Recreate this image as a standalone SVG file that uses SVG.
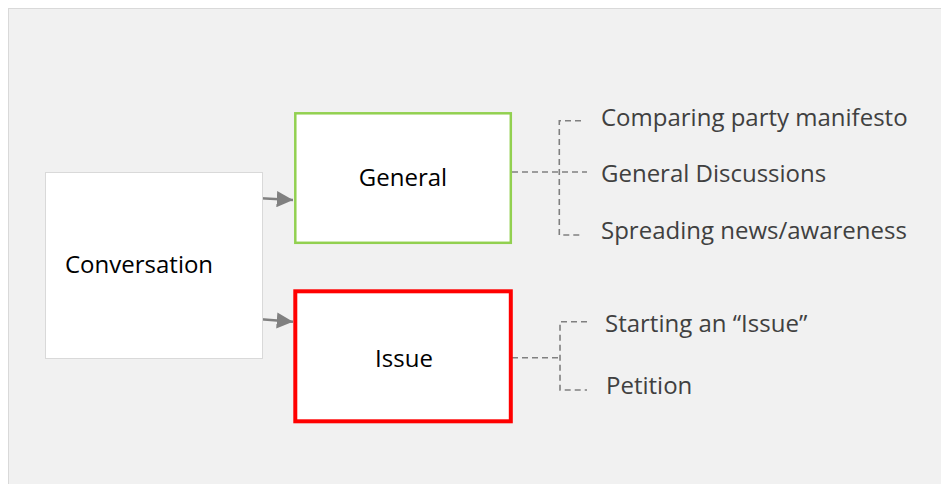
<svg xmlns="http://www.w3.org/2000/svg" width="941" height="484" viewBox="0 0 941 484">
<defs>
<style>
.lbl{font-family:"Open Sans","Noto Sans","Liberation Sans",sans-serif;font-size:24px;fill:#000}
.item{font-family:"Open Sans","Noto Sans","Liberation Sans",sans-serif;font-size:24px;fill:#404040}
.dash{fill:none;stroke:#808080;stroke-width:1.6;stroke-dasharray:6 4}
.arr{fill:none;stroke:#808080;stroke-width:2.5}
</style>
<marker id="ah" viewBox="0 0 10 10" refX="10" refY="5" markerWidth="6.5" markerHeight="6.5" markerUnits="strokeWidth" orient="auto">
<path d="M0,0 L10,5 L0,10 Z" fill="#808080"/>
</marker>
</defs>
<rect x="8.5" y="8.5" width="940" height="480" fill="#f1f1f1" stroke="#d9d9d9" stroke-width="1"/>
<g id="connectors">
<line class="arr" x1="261" y1="198.3" x2="293" y2="200" marker-end="url(#ah)"/>
<line class="arr" x1="261" y1="319.3" x2="293" y2="321.7" marker-end="url(#ah)"/>
<path class="dash" d="M512,172 H587 M581,120.7 H559.3 V235 H581"/>
<path class="dash" d="M512,357.7 H560 M587,321.7 H560 V390 H587"/>
</g>
<g id="conversation">
<rect x="45.5" y="172.5" width="217" height="186" fill="#fff" stroke="#d9d9d9" stroke-width="1"/>
<text class="lbl" x="65" y="273">Conversation</text>
</g>
<g id="general">
<rect x="295.3" y="113.3" width="215.5" height="129.5" fill="#fff" stroke="#92d050" stroke-width="2.5"/>
<text class="lbl" x="403" y="186" text-anchor="middle">General</text>
</g>
<g id="issue">
<rect x="295.3" y="291.3" width="215.5" height="130" fill="#fff" stroke="#ff0000" stroke-width="4"/>
<text class="lbl" x="404" y="367" text-anchor="middle">Issue</text>
</g>
<g id="general-items">
<text class="item" x="601" y="126">Comparing party manifesto</text>
<text class="item" x="601" y="182">General Discussions</text>
<text class="item" x="601" y="238.5">Spreading news/awareness</text>
</g>
<g id="issue-items">
<text class="item" x="605" y="332">Starting an “Issue”</text>
<text class="item" x="606" y="394">Petition</text>
</g>
</svg>
